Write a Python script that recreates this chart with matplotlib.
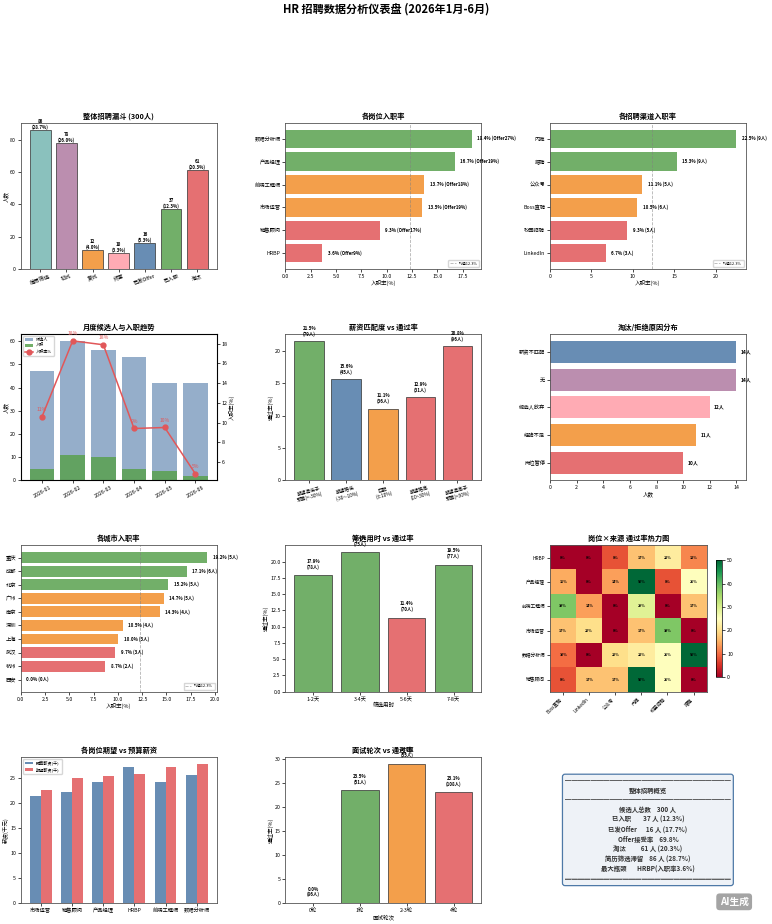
import numpy as np
import matplotlib
matplotlib.use('Agg')
from matplotlib import pyplot as plt

plt.rcParams['font.family'] = ['Noto Sans CJK SC', 'DejaVu Sans']
plt.rcParams['axes.unicode_minus'] = False

# ---------------- data ----------------
funnel_stages = ['简历筛选', '初试', '复试', '终面', '已发Offer', '已入职', '淘汰']
funnel_counts = [86, 78, 12, 10, 16, 37, 61]
total_candidates = 300

positions = ['数据分析师', '产品经理', '前端工程师', '市场运营', '销售顾问', 'HRBP']
position_rate = [18.4, 16.7, 13.7, 13.5, 9.3, 3.6]
position_offer = [27, 19, 18, 19, 17, 9]

channels = ['内推', '猎聘', '公众号', 'Boss直聘', '校园招聘', 'LinkedIn']
channel_rate = [22.5, 15.3, 11.1, 10.5, 9.3, 6.7]
channel_hired = [9, 9, 5, 6, 5, 3]

avg_rate = 12.3

months = ['2026-01', '2026-02', '2026-03', '2026-04', '2026-05', '2026-06']
month_candidates = [47, 60, 56, 53, 42, 42]
month_hired = [5, 11, 10, 5, 4, 2]
month_rate = [10.6, 18.3, 17.9, 9.4, 9.5, 4.8]

salary_match = ['期望远低于\n预算(<-30%)', '期望略低\n(-30~-10%)', '匹配\n(±10%)',
                '期望略高\n(10~30%)', '期望远高于\n预算(>30%)']
salary_match_rate = [21.5, 15.6, 11.1, 12.9, 20.8]
salary_match_n = [79, 45, 36, 31, 96]

reasons = ['薪资不匹配', '无', '候选人放弃', '经验不足', '岗位暂停']
reason_counts = [14, 14, 12, 11, 10]

cities = ['重庆', '成都', '北京', '广州', '南京', '深圳', '上海', '武汉', '杭州', '西安']
city_rate = [19.2, 17.1, 15.2, 14.7, 14.3, 10.5, 10.0, 9.7, 8.7, 0.0]
city_hired = [5, 6, 5, 5, 4, 4, 3, 3, 2, 0]

screen_days = ['1-2天', '3-4天', '5-6天', '7-8天']
screen_rate = [17.9, 21.4, 11.4, 19.5]
screen_n = [78, 75, 70, 77]

heat_rows = ['HRBP', '产品经理', '前端工程师', '市场运营', '数据分析师', '销售顾问']
heat_cols = ['Boss直聘', 'LinkedIn', '公众号', '内推', '校园招聘', '猎聘']
heat_vals = [[0, 0, 8, 17, 22, 12],
             [15, 0, 14, 50, 8, 25],
             [38, 14, 0, 29, 0, 17],
             [17, 20, 0, 17, 38, 0],
             [10, 0, 20, 22, 25, 50],
             [8, 17, 17, 50, 25, 0]]

salary_positions = ['市场运营', '销售顾问', '产品经理', 'HRBP', '前端工程师', '数据分析师']
salary_budget = [21.4, 22.3, 24.3, 27.2, 24.3, 25.7]
salary_expect = [22.7, 25.0, 25.5, 25.8, 27.3, 27.9]

rounds = ['0轮', '1轮', '2-3轮', '4轮']
round_rate = [0.0, 23.5, 29.0, 23.1]
round_n = [86, 51, 55, 108]

# ---------------- style ----------------
BLUE, ORANGE, RED, TEAL = '#4e79a7', '#f28e2b', '#e15759', '#76b7b2'
GREEN, PURPLE, PINK = '#59a14f', '#b07aa1', '#ff9da7'
TITLE_FS, TICK_FS, LABEL_FS, ANN_FS = 5.2, 3.8, 4.0, 3.2


def rate_color(v):
    if v >= 15:
        return GREEN
    if v >= 10:
        return ORANGE
    return RED


def style_ax(ax, title):
    ax.set_title(title, fontsize=TITLE_FS, fontweight='bold', pad=3)
    ax.tick_params(labelsize=TICK_FS, length=2, width=0.5, pad=1.5)
    for s in ax.spines.values():
        s.set_linewidth(0.6)
        s.set_color('#555555')


def hbar_rate(ax, labels, rates, texts, title):
    y = np.arange(len(labels))
    ax.barh(y, rates, color=[rate_color(r) for r in rates], alpha=0.85, height=0.8)
    ax.axvline(avg_rate, color='gray', ls='--', lw=0.6, alpha=0.6, label=f'均值{avg_rate}%')
    ax.set_yticks(y)
    ax.set_yticklabels(labels)
    ax.invert_yaxis()
    for yi, r, t in zip(y, rates, texts):
        ax.text(r + max(rates) * 0.03, yi, t, va='center', fontsize=ANN_FS, fontweight='bold')
    ax.set_xlabel('入职率(%)', fontsize=LABEL_FS, labelpad=1)
    ax.legend(fontsize=2.8, loc='lower right', handlelength=1.5, borderpad=0.4)
    style_ax(ax, title)


def vbar_labels(ax, x, heights, texts, offset=2):
    for xi, h, t in zip(x, heights, texts):
        ax.annotate(t, (xi, h), xytext=(0, offset), textcoords='offset points',
                    ha='center', va='bottom', fontsize=ANN_FS, fontweight='bold', linespacing=1.1)


fig, axes = plt.subplots(4, 3, figsize=(7.72, 9.24), dpi=100)
plt.subplots_adjust(left=0.027, right=0.966, top=0.867, bottom=0.0227, wspace=0.352, hspace=0.445)
fig.suptitle('HR 招聘数据分析仪表盘 (2026年1月-6月)', fontsize=8, fontweight='bold', y=0.997)

# 1. funnel
ax = axes[0, 0]
x = np.arange(len(funnel_stages))
ax.bar(x, funnel_counts, color=[TEAL, PURPLE, ORANGE, PINK, BLUE, GREEN, RED], alpha=0.85,
       edgecolor='#333333', linewidth=0.6, width=0.8)
vbar_labels(ax, x, funnel_counts,
            [f'{c}\n({c / total_candidates * 100:.1f}%)' for c in funnel_counts], offset=0)
ax.set_xticks(x)
ax.set_xticklabels(funnel_stages, rotation=20)
ax.set_ylabel('人数', fontsize=LABEL_FS, labelpad=1)
style_ax(ax, f'整体招聘漏斗 ({total_candidates}人)')

# 2. positions
hbar_rate(axes[0, 1], positions, position_rate,
          [f'{r}% (Offer{o}%)' for r, o in zip(position_rate, position_offer)], '各岗位入职率')

# 3. channels
hbar_rate(axes[0, 2], channels, channel_rate,
          [f'{r}% ({n}人)' for r, n in zip(channel_rate, channel_hired)], '各招聘渠道入职率')

# 4. monthly
ax = axes[1, 0]
x = np.arange(len(months))
ax.bar(x, month_candidates, color=BLUE, alpha=0.6, label='候选人')
ax.bar(x, month_hired, color=GREEN, alpha=0.85, label='入职')
ax.set_xticks(x)
ax.set_xticklabels(months, rotation=30)
ax.set_ylabel('人数', fontsize=LABEL_FS, labelpad=1)
ax2 = ax.twinx()
ax2.plot(x, month_rate, color=RED, marker='o', markersize=3.5, lw=1.1, label='入职率%')
for xi, r in zip(x, month_rate):
    ax2.annotate(f'{r:.0f}%', (xi, r), xytext=(0, 4), textcoords='offset points',
                 ha='center', fontsize=3.6, color=RED)
ax2.set_ylabel('入职率(%)', fontsize=LABEL_FS, labelpad=1)
ax2.tick_params(labelsize=TICK_FS, length=2, width=0.5, pad=1.5)
h1, l1 = ax.get_legend_handles_labels()
h2, l2 = ax2.get_legend_handles_labels()
ax.legend(h1 + h2, l1 + l2, fontsize=3, loc='upper left', handlelength=2, borderpad=0.4)
style_ax(ax, '月度候选人与入职趋势')

# 5. salary match
ax = axes[1, 1]
x = np.arange(len(salary_match))
ax.bar(x, salary_match_rate, color=[GREEN, BLUE, ORANGE, RED, RED], alpha=0.85,
       edgecolor='#333333', linewidth=0.6, width=0.8)
vbar_labels(ax, x, salary_match_rate,
            [f'{r}%\n({n}人)' for r, n in zip(salary_match_rate, salary_match_n)], offset=3)
ax.set_xticks(x)
ax.set_xticklabels(salary_match, rotation=15, fontsize=3.4, linespacing=1.1)
ax.set_ylabel('通过率(%)', fontsize=LABEL_FS, labelpad=1)
style_ax(ax, '薪资匹配度 vs 通过率')
ax.tick_params(axis='x', labelsize=3.4)

# 6. rejection reasons
ax = axes[1, 2]
y = np.arange(len(reasons))
ax.barh(y, reason_counts, color=[BLUE, PURPLE, PINK, ORANGE, RED], alpha=0.85, height=0.8)
ax.set_yticks(y)
ax.set_yticklabels(reasons)
ax.invert_yaxis()
for yi, c in zip(y, reason_counts):
    ax.text(c + 0.3, yi, f'{c}人', va='center', fontsize=ANN_FS + 0.3, fontweight='bold')
ax.set_xlabel('人数', fontsize=LABEL_FS, labelpad=1)
style_ax(ax, '淘汰/拒绝原因分布')

# 7. cities
hbar_rate(axes[2, 0], cities, city_rate,
          [f'{r:.1f}% ({n}人)' for r, n in zip(city_rate, city_hired)], '各城市入职率')

# 8. screening time
ax = axes[2, 1]
x = np.arange(len(screen_days))
ax.bar(x, screen_rate, color=[GREEN if r >= 15 else RED for r in screen_rate], alpha=0.85,
       edgecolor='#333333', linewidth=0.6, width=0.8)
vbar_labels(ax, x, screen_rate,
            [f'{r}%\n({n}人)' for r, n in zip(screen_rate, screen_n)], offset=4)
ax.set_xticks(x)
ax.set_xticklabels(screen_days)
ax.set_xlabel('筛选用时', fontsize=LABEL_FS, labelpad=1)
ax.set_ylabel('通过率(%)', fontsize=LABEL_FS, labelpad=1)
style_ax(ax, '筛选用时 vs 通过率')

# 9. heatmap
ax = axes[2, 2]
hv = np.array(heat_vals)
im = ax.imshow(hv, cmap='RdYlGn', vmin=0, vmax=50, aspect='auto')
for i in range(hv.shape[0]):
    for j in range(hv.shape[1]):
        ax.text(j, i, f'{hv[i, j]}%', ha='center', va='center', fontsize=2.6, fontweight='bold')
ax.set_xticks(np.arange(len(heat_cols)))
ax.set_xticklabels(heat_cols, rotation=45, ha='right')
ax.set_yticks(np.arange(len(heat_rows)))
ax.set_yticklabels(heat_rows)
style_ax(ax, '岗位×来源 通过率热力图')
ax.tick_params(labelsize=3.4)
cb = fig.colorbar(im, ax=ax, shrink=0.8)
cb.ax.tick_params(labelsize=TICK_FS, length=2, width=0.5, pad=1.5)
cb.outline.set_linewidth(0.5)

# 10. salary compare
ax = axes[3, 0]
x = np.arange(len(salary_positions))
w = 0.35
ax.bar(x - w / 2, salary_budget, w, color=BLUE, alpha=0.85, label='预算薪资(千)')
ax.bar(x + w / 2, salary_expect, w, color=RED, alpha=0.85, label='期望薪资(千)')
ax.set_xticks(x)
ax.set_xticklabels(salary_positions)
ax.set_ylabel('薪资(千元)', fontsize=LABEL_FS, labelpad=1)
ax.legend(fontsize=3, loc='upper left', borderpad=0.4)
style_ax(ax, '各岗位期望 vs 预算薪资')

# 11. interview rounds
ax = axes[3, 1]
x = np.arange(len(rounds))
ax.bar(x, round_rate, color=[BLUE, GREEN, ORANGE, RED], alpha=0.85,
       edgecolor='#333333', linewidth=0.6, width=0.8)
vbar_labels(ax, x, round_rate,
            [f'{r}%\n({n}人)' for r, n in zip(round_rate, round_n)], offset=4)
ax.set_xticks(x)
ax.set_xticklabels(rounds)
ax.set_xlabel('面试轮次', fontsize=LABEL_FS, labelpad=1)
ax.set_ylabel('通过率(%)', fontsize=LABEL_FS, labelpad=1)
style_ax(ax, '面试轮次 vs 通过率')

# 12. summary
ax = axes[3, 2]
ax.axis('off')
hired = funnel_counts[5]
offered = funnel_counts[4]
rejected = funnel_counts[6]
screening = funnel_counts[0]
worst = int(np.argmin(position_rate))
line = '─' * 26
summary = '\n'.join([
    line,
    '整体招聘概览',
    line,
    f'候选人总数    {total_candidates} 人',
    f'已入职        {hired} 人 ({hired / total_candidates * 100:.1f}%)',
    f'已发Offer      {offered} 人 ({(offered + hired) / total_candidates * 100:.1f}%)',
    f'Offer接受率    {hired / (offered + hired) * 100:.1f}%',
    f'淘汰          {rejected} 人 ({rejected / total_candidates * 100:.1f}%)',
    f'简历筛选滞留    {screening} 人 ({screening / total_candidates * 100:.1f}%)',
    f'最大瓶颈       {positions[worst]}(入职率{position_rate[worst]}%)',
    '═' * 26,
])
ax.text(0.5, 0.5, summary, transform=ax.transAxes, ha='center', va='center',
        multialignment='center', fontsize=4.6, fontweight='bold', color='#333333', linespacing=1.45,
        bbox=dict(boxstyle='round,pad=0.4', facecolor='#eef2f7', edgecolor=BLUE, linewidth=0.9))

fig.text(0.951, 0.024, 'AI生成', ha='center', va='center', fontsize=7, color='white', fontweight='bold',
         bbox=dict(boxstyle='round,pad=0.35', facecolor='#9a9a9a', edgecolor='none', alpha=0.9))

fig.savefig('out.png', dpi=100)
